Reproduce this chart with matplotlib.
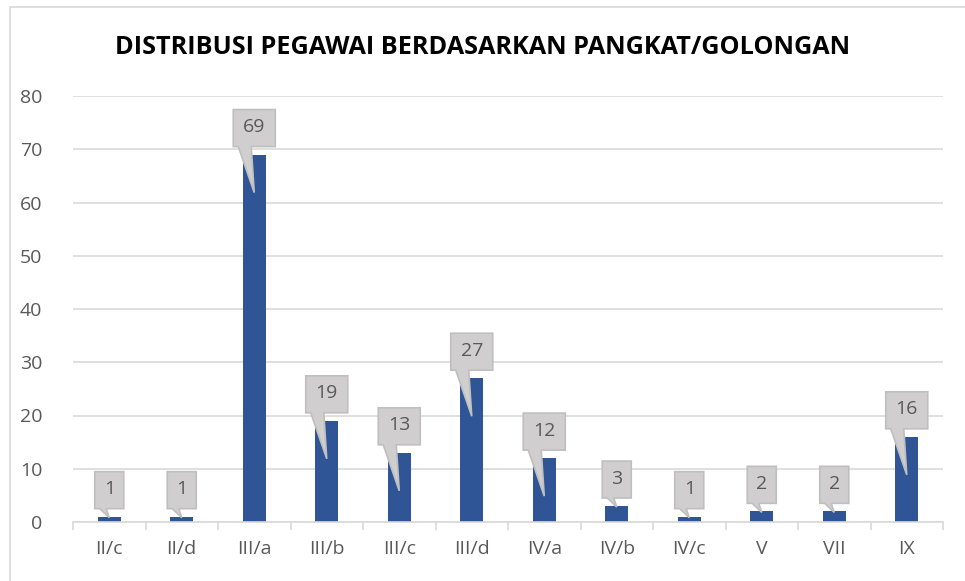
import matplotlib.pyplot as plt
import matplotlib.transforms as mtransforms
from matplotlib.patches import Polygon, Rectangle
import numpy as np

plt.rcParams['font.family'] = ['Open Sans', 'DejaVu Sans']

golongan = ['II/c', 'II/d', 'III/a', 'III/b', 'III/c', 'III/d',
            'IV/a', 'IV/b', 'IV/c', 'V', 'VII', 'IX']
jumlah = [1, 1, 69, 19, 13, 27, 12, 3, 1, 2, 2, 16]
judul = 'DISTRIBUSI PEGAWAI BERDASARKAN PANGKAT/GOLONGAN'

warna_batang = '#2f5597'
warna_teks = '#595959'

fig = plt.figure(figsize=(9.65, 5.81), dpi=100)
fig.patches.append(Rectangle((10 / 965, -0.01), 1.0, 1 - 7 / 581 + 0.01,
                             transform=fig.transFigure, fill=False,
                             edgecolor='#d9d9d9', linewidth=1.2))

ax = fig.add_axes([73 / 965, 1 - 522 / 581, 870 / 965, 426 / 581])
x = np.arange(len(golongan))
ax.bar(x, jumlah, width=0.32, color=warna_batang, zorder=2)

ax.set_xlim(-0.5, len(golongan) - 0.5)
ax.set_ylim(0, 80)
ax.set_yticks(range(0, 81, 10))
ax.yaxis.grid(True, color='#d9d9d9', linewidth=1.2, zorder=0)
ax.set_axisbelow(True)
for s in ['top', 'right', 'left']:
    ax.spines[s].set_visible(False)
ax.spines['bottom'].set_color('#d9d9d9')
ax.spines['bottom'].set_linewidth(1.2)
ax.tick_params(axis='y', length=0, labelsize=14, labelcolor=warna_teks, pad=22)
ax.set_xticks(x)
ax.set_xticklabels(golongan)
ax.tick_params(axis='x', length=0, labelsize=14, labelcolor=warna_teks, pad=13)
# tick kecil di batas antar kategori
ax.set_xticks(np.arange(-0.5, len(golongan), 1), minor=True)
ax.tick_params(axis='x', which='minor', length=6, color='#d9d9d9', width=1.2)

fig.text(0.5, 1 - 47 / 581, judul, ha='center', va='center',
         fontsize=18.2, fontweight='bold', color='black')

# callout label data
px = 1 / 100.0
for i, v in zip(x, jumlah):
    w = 42 if v >= 10 else 29
    h = 37
    gap = 8
    tinggi_px = v * 426 / 80
    d = 38 if tinggi_px > 50 else 1
    trans = fig.dpi_scale_trans + mtransforms.ScaledTranslation(i, v, ax.transData)
    verts = [(-w / 2, gap + h), (-w / 2, gap), (-w / 2 + 5, gap), (0, -d),
             (-3, gap), (w / 2, gap), (w / 2, gap + h)]
    verts = [(a * px, b * px) for a, b in verts]
    ax.add_patch(Polygon(verts, closed=True, transform=trans, facecolor='#d0cece',
                         edgecolor='#bfbfbf', linewidth=1.2, zorder=4, clip_on=False))
    ax.text(0, (gap + h / 2 + 1) * px, str(v), transform=trans, ha='center', va='center',
            fontsize=14, color=warna_teks, zorder=5)

fig.savefig('out.png', dpi=100)
